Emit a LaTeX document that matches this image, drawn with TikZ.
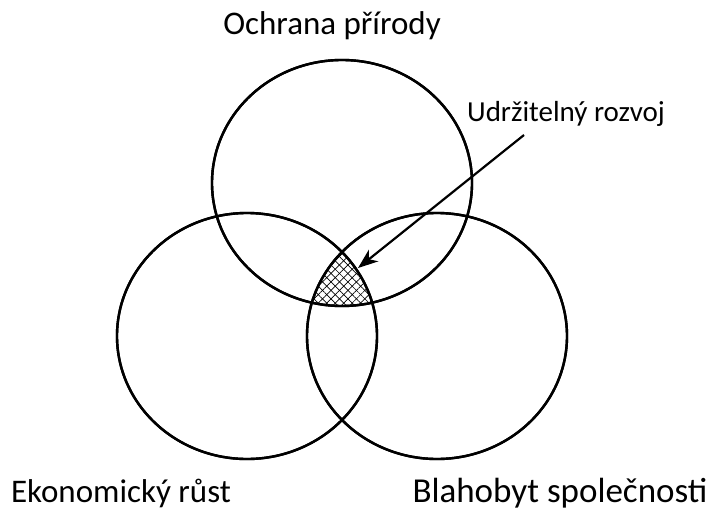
\documentclass[tikz,border=0pt]{standalone}
\usepackage{fontspec}
\setmainfont{Carlito}
\usepackage{tikz}
\usetikzlibrary{arrows.meta,positioning,patterns.meta,shapes.geometric}

\begin{document}
\begin{tikzpicture}[
  x=1pt,y=-1pt,
  kruh/.style={draw,ellipse,line width=2.4pt,minimum width=260pt,minimum height=246pt,inner sep=0pt},
  popis/.style={font=\fontsize{33}{36}\selectfont,inner sep=0pt},
  sit/.style={pattern={Lines[angle=45,distance=6pt,line width=0.7pt]}},
  sit2/.style={pattern={Lines[angle=-45,distance=6pt,line width=0.7pt]}},
  arrow/.style={-{Stealth[length=20pt,width=15pt,inset=6pt]},line width=2.2pt}
]
\useasboundingbox (0,0) rectangle (719,511);
% the three circles
\node[kruh] (priroda) at (342,183) {};
\node[kruh] (rust) at (247,336) {};
\node[kruh] (blahobyt) at (437,336) {};
% the common part
\begin{scope}
  \clip (342,183) ellipse [x radius=130pt,y radius=123pt];
  \clip (247,336) ellipse [x radius=130pt,y radius=123pt];
  \fill[sit] (437,336) ellipse [x radius=130pt,y radius=123pt];
  \fill[sit2] (437,336) ellipse [x radius=130pt,y radius=123pt];
\end{scope}
\node[kruh] at (342,183) {};
\node[kruh] at (247,336) {};
\node[kruh] at (437,336) {};
% labels
\node[popis] (ochrana) at (332,26) {Ochrana přírody};
\node[popis,font=\fontsize{29}{34}\selectfont] (rozvoj) at (566,114) {Udržitelný rozvoj};
\node[popis] (ekonomika) at (121,493) {Ekonomický růst};
\node[popis,font=\fontsize{35}{38}\selectfont] (spolecnost) at (560,493) {Blahobyt společnosti};
\coordinate (sipka) at (524,135);
\coordinate (jadro) at (358,268);
\draw[arrow] (sipka) -- (jadro);
\end{tikzpicture}
\end{document}
